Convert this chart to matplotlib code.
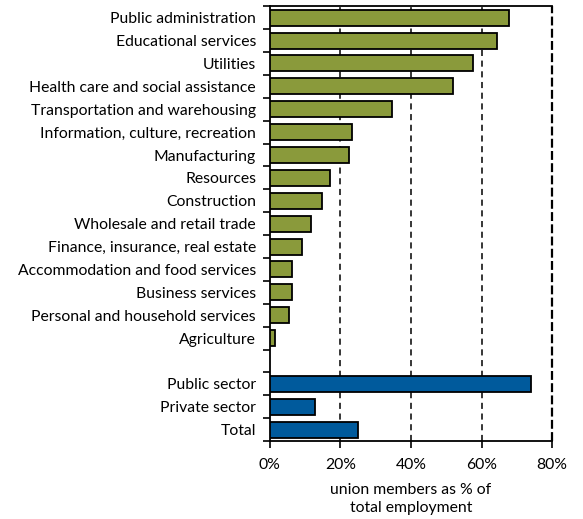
import matplotlib
matplotlib.use("Agg")
import matplotlib.pyplot as plt
import numpy as np
from matplotlib.ticker import FixedLocator, FuncFormatter

industries = [
    "Public administration", "Educational services", "Utilities",
    "Health care and social assistance", "Transportation and warehousing",
    "Information, culture, recreation", "Manufacturing", "Resources",
    "Construction", "Wholesale and retail trade", "Finance, insurance, real estate",
    "Accommodation and food services", "Business services",
    "Personal and household services", "Agriculture",
]
industry_rates = [67.9, 64.3, 57.5, 51.8, 34.6, 23.4, 22.4, 17.0, 14.9, 11.6,
                  9.0, 6.3, 6.3, 5.4, 1.3]
sectors = ["Public sector", "Private sector", "Total"]
sector_rates = [74.0, 12.8, 24.9]
x_ticks = [0, 20, 40, 60, 80]

plt.rcParams['font.family'] = ['Lato', 'DejaVu Sans']

fig = plt.figure(figsize=(5.83, 5.19), dpi=100)
ax = fig.add_axes([0.463, 0.150, 0.484, 0.838])

labels = industries + [""] + sectors
n = len(labels)
ypos = np.arange(n)

green = "#8A9A3B"
blue = "#005A9C"
h = 0.7
fs = 11.3

ax.barh(ypos[:len(industries)], industry_rates, height=h, color=green,
        edgecolor="black", linewidth=1.3, zorder=3)
ax.barh(ypos[len(industries) + 1:], sector_rates, height=h, color=blue,
        edgecolor="black", linewidth=1.3, zorder=3)

ax.set_ylim(n - 0.5, -0.5)
ax.set_xlim(0, 80)

ax.set_yticks(ypos)
ax.set_yticklabels(labels, fontsize=fs)
ax.tick_params(axis="y", which="major", length=0, pad=10)
ax.yaxis.set_minor_locator(FixedLocator(np.arange(-0.5, n, 1.0)))
ax.tick_params(axis="y", which="minor", length=5, width=1.2, direction="out")

ax.set_xticks(x_ticks)
ax.xaxis.set_major_formatter(FuncFormatter(lambda v, p: f"{v:.0f}%"))
ax.tick_params(axis="x", length=5, width=1.2, direction="out", labelsize=fs, pad=7)

for v in x_ticks[1:-1]:
    ax.axvline(v, color="black", linestyle=(0, (4, 3)), linewidth=1.1, zorder=1)
ax.axvline(x_ticks[-1], color="black", linestyle=(0, (4, 1.5)), linewidth=1.6,
           zorder=1, clip_on=False)

for side in ["left", "bottom", "top"]:
    ax.spines[side].set_linewidth(1.3)
ax.spines["right"].set_visible(False)

ax.set_xlabel("union members as % of\ntotal employment", fontsize=fs,
              labelpad=8, linespacing=1.35)

fig.savefig("out.png", dpi=100)
